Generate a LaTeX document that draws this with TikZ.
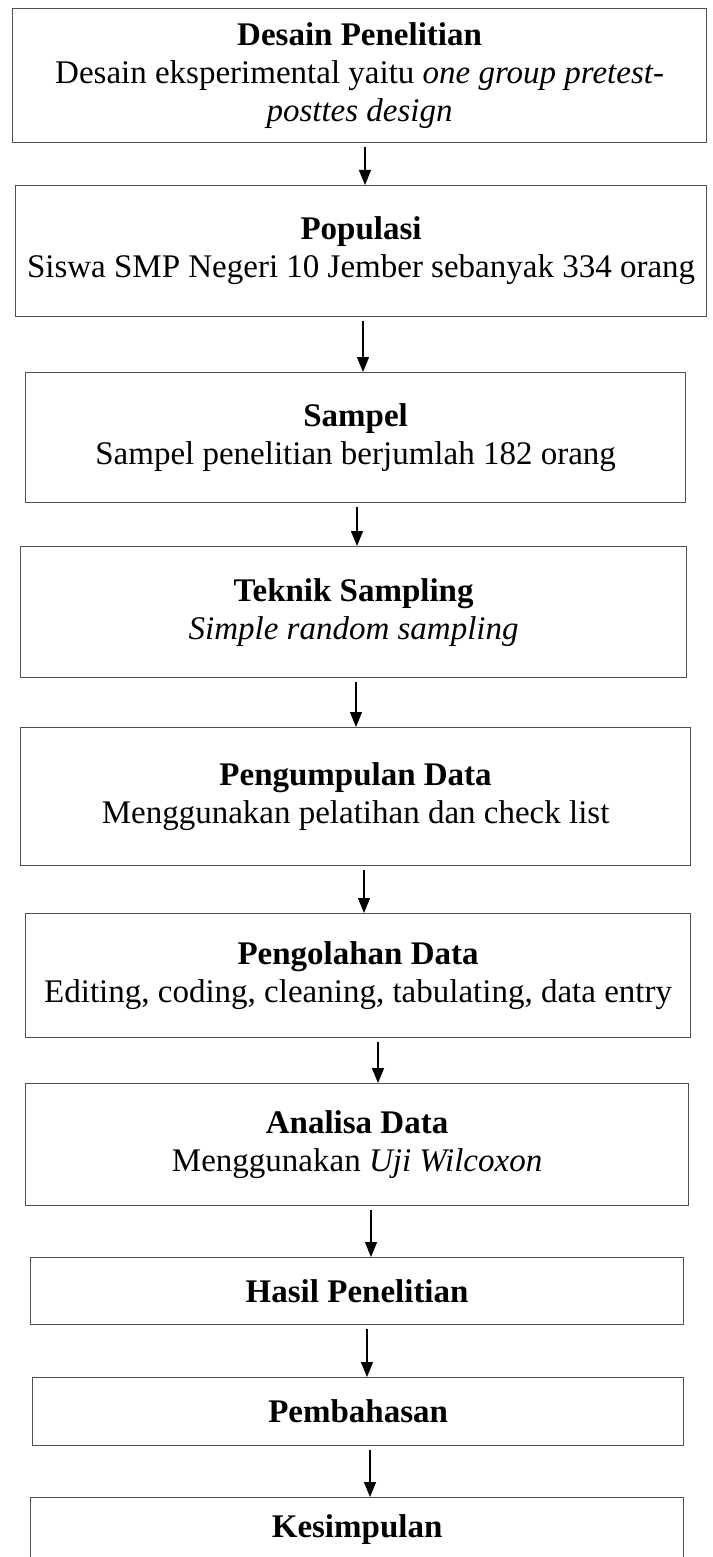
\documentclass[tikz,border=0pt]{standalone}
\usepackage{fontspec}
\setmainfont{Liberation Serif}
\usetikzlibrary{arrows.meta}
\definecolor{boxgray}{HTML}{505050}
\tikzset{
  box/.style={draw=boxgray, line width=1.2pt, rectangle, anchor=north west, inner sep=0pt, align=center, font=\fontsize{33}{38}\selectfont},
  arr/.style={line width=1.3pt, -{Triangle[length=15pt,width=12pt]}, shorten <=4pt}
}
\begin{document}
\begin{tikzpicture}[x=1pt,y=-1pt]
\useasboundingbox (0,0) rectangle (712,1557);
\fill[white] (0,0) rectangle (712,1557);
\node[box, minimum width=694pt, minimum height=134pt] (b1) at (12,8) {\textbf{Desain Penelitian}\\Desain eksperimental yaitu \textit{one group pretest-}\\\textit{posttes design}};
\node[box, minimum width=691pt, minimum height=131pt] (b2) at (15,185) {\textbf{Populasi}\\Siswa SMP Negeri 10 Jember sebanyak 334 orang};
\node[box, minimum width=660pt, minimum height=130pt] (b3) at (25,372) {\textbf{Sampel}\\Sampel penelitian berjumlah 182 orang};
\node[box, minimum width=666pt, minimum height=131pt] (b4) at (20,546) {\textbf{Teknik Sampling}\\\textit{Simple random sampling}};
\node[box, minimum width=670pt, minimum height=138pt] (b5) at (20,727) {\textbf{Pengumpulan Data}\\Menggunakan pelatihan dan check list};
\node[box, minimum width=665pt, minimum height=124pt] (b6) at (25,913) {\textbf{Pengolahan Data}\\Editing, coding, cleaning, tabulating, data entry};
\node[box, minimum width=663pt, minimum height=122pt] (b7) at (25,1083) {\textbf{Analisa Data}\\Menggunakan \textit{Uji Wilcoxon}};
\node[box, minimum width=653pt, minimum height=67pt] (b8) at (30,1257) {\textbf{Hasil Penelitian}};
\node[box, minimum width=651pt, minimum height=68pt] (b9) at (32,1377) {\textbf{Pembahasan}};
\node[box, minimum width=653pt, minimum height=64pt] (b10) at (30,1497) {\textbf{Kesimpulan}};
\draw[arr] (b1.south -| 365,0) -- (b2.north -| 365,0);
\draw[arr] (b2.south -| 363,0) -- (b3.north -| 363,0);
\draw[arr] (b3.south -| 357,0) -- (b4.north -| 357,0);
\draw[arr] (b4.south -| 356,0) -- (b5.north -| 356,0);
\draw[arr] (b5.south -| 364,0) -- (b6.north -| 364,0);
\draw[arr] (b6.south -| 378,0) -- (b7.north -| 378,0);
\draw[arr] (b7.south -| 371,0) -- (b8.north -| 371,0);
\draw[arr] (b8.south -| 367,0) -- (b9.north -| 367,0);
\draw[arr] (b9.south -| 370,0) -- (b10.north -| 370,0);
\end{tikzpicture}
\end{document}
